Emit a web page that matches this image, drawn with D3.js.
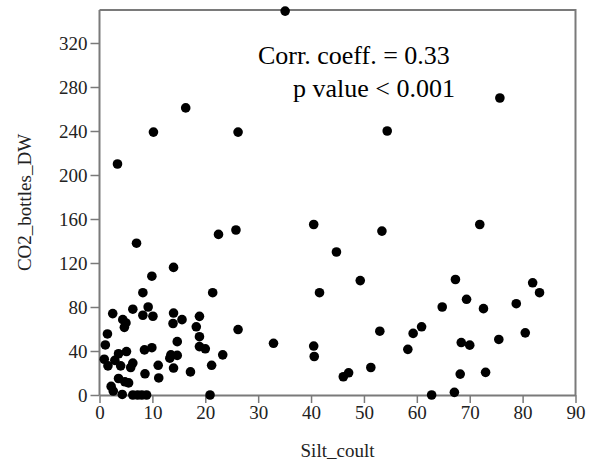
<!DOCTYPE html>
<html>
<head>
<meta charset="utf-8">
<script src="https://cdn.jsdelivr.net/npm/d3@7/dist/d3.min.js"></script>
<style>
  html, body { margin: 0; padding: 0; background: #fff; }
  svg { display: block; }
  text { font-family: "Liberation Serif", "Times New Roman", serif; }
</style>
</head>
<body>
<svg id="chart" width="593" height="464"></svg>
<script>
// Data
const silt = [35.1, 75.7, 54.4, 16.3, 10.2, 26.2, 3.4, 40.5, 71.9, 53.4, 25.8, 22.5, 7.0, 44.8, 14.0, 9.9,
  67.3, 49.3, 81.9, 8.2, 21.4, 41.6, 83.2, 69.4, 78.8, 9.2, 64.8, 72.6, 6.3, 2.5, 14.0, 8.2, 10.1, 18.9,
  4.4, 15.6, 5.0, 13.9, 4.7, 18.3, 60.9, 26.2, 53.0, 80.5, 1.5, 59.3, 18.9, 75.5, 14.7, 68.4, 32.9, 1.1,
  70.0, 40.5, 18.9, 9.9, 20.0, 58.3, 8.5, 5.1, 3.6, 13.5, 14.7, 23.3, 13.3, 40.6, 0.9, 2.9, 6.3, 1.6,
  4.0, 11.1, 21.2, 5.9, 51.3, 14.0, 17.2, 47.1, 73.0, 8.6, 68.2, 46.1, 11.2, 3.6, 4.8, 5.5, 2.2, 2.6,
  67.1, 4.3, 6.3, 7.2, 8.0, 8.9, 20.9, 62.8];
const co2 = [349, 270, 240, 261, 239, 239, 210, 155, 155, 149, 150, 146, 138, 130, 116, 108,
  105, 104, 102, 93, 93, 93, 93, 87, 83, 80, 80, 78.5, 78, 74, 74.5, 72.5, 71.6, 71.5,
  68.5, 68.5, 65.5, 65, 61.5, 62, 62, 59.5, 58, 56.5, 55.5, 56, 53, 50.5, 48.5, 47.7, 47, 45.5,
  45.3, 44.5, 44, 43, 42, 41.5, 41, 39.5, 37.5, 36.5, 36, 36.5, 33.5, 35, 32.5, 31.5, 29, 26.5,
  26.5, 27, 27, 25, 25, 24.5, 21, 20.2, 20.6, 19.3, 19, 16.6, 15.5, 15, 12, 11, 7.8, 3.6,
  2.4, 0.5, 0, 0, 0, 0, 0, 0];
const xTicks = [0, 10, 20, 30, 40, 50, 60, 70, 80, 90];
const yTicks = [0, 40, 80, 120, 160, 200, 240, 280, 320];
const xTitle = "Silt_coult";
const yTitle = "CO2_bottles_DW";
const annotation = ["Corr. coeff. = 0.33", "p value < 0.001"];

const svg = d3.select("#chart");
const mLeft = 99.5, mRight = 575.5, mTop = 10, mBottom = 395;

const x = d3.scaleLinear().domain([0, 90]).range([mLeft, mRight]);
const y = d3.scaleLinear().domain([0, 350]).range([mBottom, mTop]);

const axisColor = "#7a7a7a";
const textColor = "#222";
const fontFam = '"Liberation Serif", "Times New Roman", serif';

// Frame (top & right)
svg.append("path")
  .attr("d", `M${mLeft},${mTop}H${mRight}V${mBottom}`)
  .attr("fill", "none").attr("stroke", axisColor).attr("stroke-width", 2);

// X axis
const gx = svg.append("g").attr("transform", `translate(0,${mBottom})`)
  .call(d3.axisBottom(x).tickValues(xTicks).tickSize(8).tickPadding(3).tickSizeOuter(0));
gx.select(".domain").attr("stroke", axisColor).attr("stroke-width", 2);
gx.selectAll(".tick line").attr("stroke", axisColor).attr("stroke-width", 1.5);
gx.selectAll(".tick text").attr("fill", textColor)
  .style("font-family", fontFam).style("font-size", "19px");

// Y axis
const gy = svg.append("g").attr("transform", `translate(${mLeft},0)`)
  .call(d3.axisLeft(y).tickValues(yTicks).tickSize(9).tickPadding(3).tickSizeOuter(0));
gy.select(".domain").attr("stroke", axisColor).attr("stroke-width", 2)
  .attr("d", `M0,${mBottom}V${mTop}`);
gy.selectAll(".tick line").attr("stroke", axisColor).attr("stroke-width", 1.5);
gy.selectAll(".tick text").attr("fill", textColor)
  .style("font-family", fontFam).style("font-size", "19px");

// Points
svg.append("g").selectAll("circle")
  .data(silt.map((s, i) => [s, co2[i]]))
  .join("circle")
  .attr("cx", d => x(d[0]))
  .attr("cy", d => y(d[1]))
  .attr("r", 4.8)
  .attr("fill", "#000");

// Axis titles
svg.append("text")
  .attr("x", (mLeft + mRight) / 2).attr("y", 457)
  .attr("text-anchor", "middle").attr("fill", textColor)
  .style("font-size", "19px").text(xTitle);

svg.append("text")
  .attr("transform", `translate(31,${(mTop + mBottom) / 2}) rotate(-90)`)
  .attr("text-anchor", "middle").attr("fill", textColor)
  .style("font-size", "19px").text(yTitle);

// Annotation
svg.append("text")
  .attr("x", 258).attr("y", 64)
  .attr("fill", "#000").style("font-size", "26px")
  .text(annotation[0]);
svg.append("text")
  .attr("x", 293).attr("y", 97)
  .attr("fill", "#000").style("font-size", "26px")
  .text(annotation[1]);
</script>
</body>
</html>
